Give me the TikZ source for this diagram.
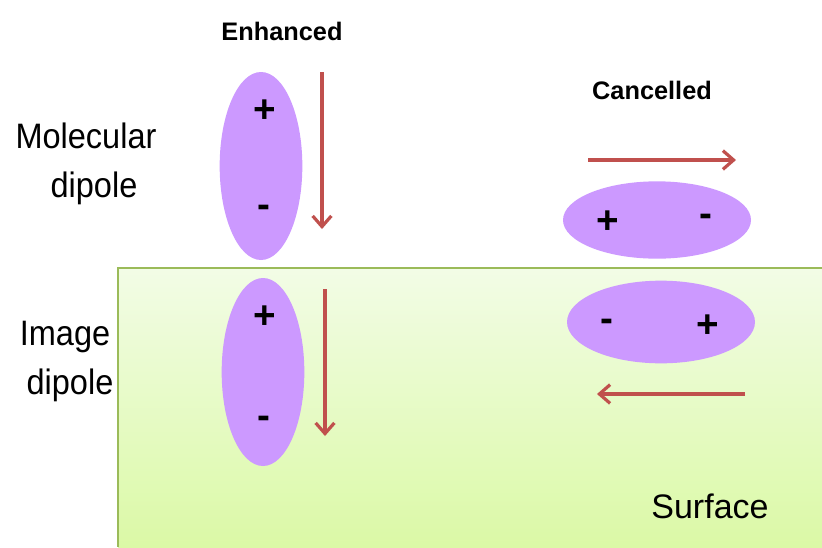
\documentclass[tikz,border=0pt]{standalone}
\usepackage{fontspec}
\setmainfont{Liberation Sans}
\newfontfamily\narrowsans[FakeStretch=0.92]{Liberation Sans}
\usetikzlibrary{shapes.geometric,arrows.meta}
\definecolor{dipolefill}{HTML}{CC99FF}
\definecolor{arrowred}{HTML}{C0504D}
\definecolor{surftop}{HTML}{F2FCE6}
\definecolor{surfbot}{HTML}{DBF9A6}
\definecolor{surfline}{HTML}{9BBB59}
\tikzset{
  dipole/.style={ellipse, fill=dipolefill, draw=none, inner sep=0pt},
  vdipole/.style={dipole, minimum width=62pt, minimum height=141pt},
  hdipole/.style={dipole, minimum width=141pt, minimum height=58pt},
  charge/.style={font=\bfseries\fontsize{29}{29}\selectfont, inner sep=0pt},
  field/.style={draw=arrowred, line width=2.8pt, -{Straight Barb[length=8pt,width=14pt,line width=2.4pt]}},
  heading/.style={font=\bfseries\fontsize{19}{19}\selectfont},
  sidelabel/.style={font=\narrowsans\fontsize{26.5}{26.5}\selectfont, anchor=base, inner sep=0pt},
}
\begin{document}
\begin{tikzpicture}[x=0.75pt, y=-0.75pt]
\useasboundingbox (0,0) rectangle (822,547);
\fill[white] (0,0) rectangle (822,547);
% surface region
\shade[top color=surftop, bottom color=surfbot] (118,268) rectangle (822,547);
\draw[surfline, line width=1.2pt] (118,547) -- (118,268) -- (822,268);

% headings and side labels
\node[heading] (enh) at (282,31) {Enhanced};
\node[heading] (can) at (652,90) {Cancelled};
\node[sidelabel] (mol1) at (86,148) {Molecular};
\node[sidelabel] (mol2) at (94,197) {dipole};
\node[sidelabel] (img1) at (65,345) {Image};
\node[sidelabel] (img2) at (70,394) {dipole};
\node[font=\fontsize{25.5}{25.5}\selectfont, anchor=base, inner sep=0pt] (surf) at (710,518) {Surface};

% perpendicular dipole and its image
\node[vdipole] (d1) at (261,166) {};
\node[charge] (d1p) at (265,111) {+};
\node[charge] (d1m) at (264,211) {-};
\coordinate (a1s) at (322,72);
\coordinate (a1e) at (322,229);
\draw[field] (a1s) -- (a1e);

\node[vdipole] (d2) at (263,372) {};
\node[charge] (d2p) at (265,317) {+};
\node[charge] (d2m) at (264,422) {-};
\coordinate (a2s) at (325,289);
\coordinate (a2e) at (325,436);
\draw[field] (a2s) -- (a2e);

% parallel dipole and its image
\node[hdipole] (d3) at (657,220) {};
\node[charge] (d3p) at (608,222) {+};
\node[charge] (d3m) at (706,220) {-};
\coordinate (a3s) at (588,160);
\coordinate (a3e) at (736,160);
\draw[field] (a3s) -- (a3e);

\node[hdipole, minimum height=62pt] (d4) at (661,322) {};
\node[charge] (d4m) at (607,325) {-};
\node[charge] (d4p) at (708,326) {+};
\coordinate (a4s) at (745,394);
\coordinate (a4e) at (597,394);
\draw[field] (a4s) -- (a4e);
\end{tikzpicture}
\end{document}
